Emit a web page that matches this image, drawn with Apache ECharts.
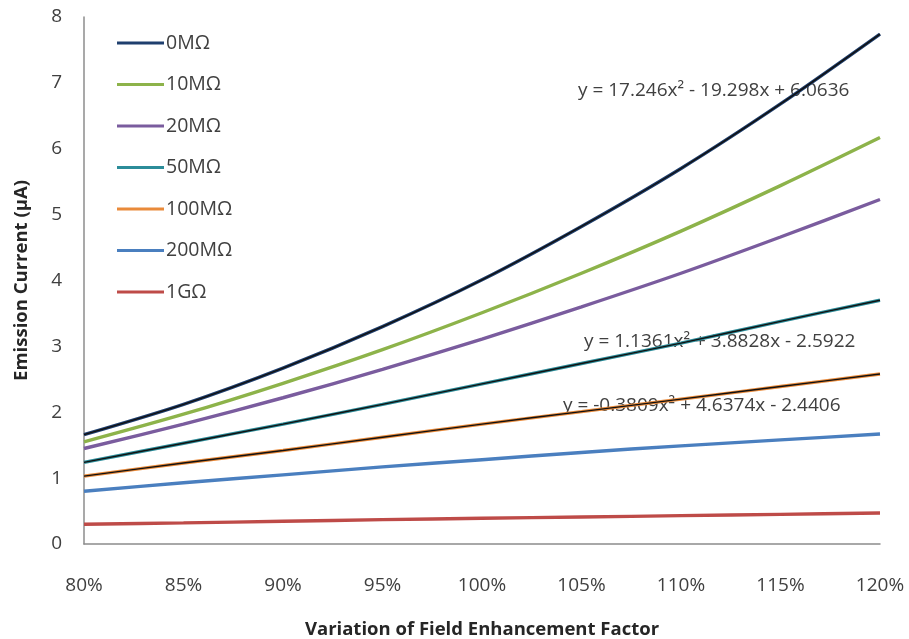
<!DOCTYPE html>
<html>
<head>
<meta charset="utf-8">
<script src="https://cdn.jsdelivr.net/npm/echarts@6/dist/echarts.min.js"></script>
<style>
  html, body { margin: 0; padding: 0; background: #ffffff; }
  #chart { width: 909px; height: 639px; }
</style>
</head>
<body>
<div id="chart"></div>
<script>
// Field enhancement factor variation (x) vs. emission current in µA (y)
const factors = ['80%', '85%', '90%', '95%', '100%', '105%', '110%', '115%', '120%'];

const r0M   = [1.66, 2.12, 2.67, 3.30, 4.01, 4.82, 5.70, 6.68, 7.74];
const r10M  = [1.55, 1.97, 2.44, 2.95, 3.51, 4.11, 4.75, 5.44, 6.17];
const r20M  = [1.45, 1.82, 2.22, 2.65, 3.11, 3.60, 4.11, 4.66, 5.23];
const r50M  = [1.24, 1.53, 1.82, 2.12, 2.43, 2.74, 3.05, 3.38, 3.70];
const r100M = [1.03, 1.23, 1.42, 1.62, 1.82, 2.01, 2.20, 2.39, 2.58];
const r200M = [0.80, 0.93, 1.05, 1.17, 1.28, 1.39, 1.49, 1.58, 1.67];
const r1G   = [0.30, 0.32, 0.345, 0.37, 0.39, 0.41, 0.43, 0.45, 0.47];

const seriesNames = ['0MΩ', '10MΩ', '20MΩ', '50MΩ', '100MΩ', '200MΩ', '1GΩ'];
const seriesData  = [r0M, r10M, r20M, r50M, r100M, r200M, r1G];
const seriesColors = ['#1F3F6E', '#8DB34A', '#7A5C9E', '#2B8C99', '#E98A3A', '#4A7FBF', '#BE4B48'];

// Polynomial trendline equations shown on the plot
const trendLabels = [
  'y = 17.246x² - 19.298x + 6.0636',
  'y = 1.1361x² + 3.8828x - 2.5922',
  'y = -0.3809x² + 4.6374x - 2.4406'
];
const trendSeries = [r0M, r50M, r100M];

const FONT = '"Open Sans", "Noto Sans", sans-serif';
const TEXT = '#404040';

const series = seriesNames.map((name, i) => ({
  name: name,
  type: 'line',
  data: seriesData[i],
  smooth: 0.3,
  showSymbol: false,
  symbol: 'none',
  lineStyle: { color: seriesColors[i], width: 3.4 },
  itemStyle: { color: seriesColors[i] },
  z: 2
}));

// thin black trendlines drawn over their series
trendSeries.forEach(d => {
  series.push({
    type: 'line',
    data: d,
    smooth: 0.3,
    showSymbol: false,
    symbol: 'none',
    lineStyle: { color: '#111111', width: 1.4 },
    silent: true,
    z: 3
  });
});

const chart = echarts.init(document.getElementById('chart'), null, { renderer: 'canvas' });
chart.setOption({
  backgroundColor: '#ffffff',
  animation: false,
  grid: { left: 84, right: 29, top: 17, bottom: 95, containLabel: false, outerBoundsMode: 'none' },
  legend: {
    data: seriesNames.map((n, i) => ({ name: n, icon: 'rect', itemStyle: { color: seriesColors[i] } })),
    orient: 'vertical',
    left: 117,
    top: 33,
    padding: 0,
    itemWidth: 47,
    itemHeight: 3,
    itemGap: 21.5,
    textStyle: { fontFamily: FONT, fontSize: 19.5, color: TEXT, lineHeight: 20, padding: [0, 0, 0, -3] }
  },
  xAxis: {
    type: 'category',
    data: factors,
    boundaryGap: false,
    name: 'Variation of Field Enhancement Factor',
    nameLocation: 'middle',
    nameGap: 76,
    nameTextStyle: { fontFamily: FONT, fontSize: 18.5, fontWeight: 'bold', color: '#262626' },
    axisLine: { lineStyle: { color: '#8c8c8c', width: 1.5 } },
    axisTick: { show: false },
    axisLabel: { fontFamily: FONT, fontSize: 19, color: TEXT, margin: 32 },
    splitLine: { show: false }
  },
  yAxis: {
    type: 'value',
    min: 0,
    max: 8,
    interval: 1,
    name: 'Emission Current (μA)',
    nameLocation: 'middle',
    nameGap: 53,
    nameTextStyle: { fontFamily: FONT, fontSize: 18.5, fontWeight: 'bold', color: '#262626' },
    axisLine: { show: true, lineStyle: { color: '#8c8c8c', width: 1.5 } },
    axisTick: { show: false },
    axisLabel: { fontFamily: FONT, fontSize: 19, color: TEXT, margin: 22 },
    splitLine: { show: false }
  },
  graphic: [
    { type: 'text', left: 578, top: 81, z: 0, style: { text: trendLabels[0], font: '19px ' + FONT, fill: TEXT } },
    { type: 'text', left: 584, top: 332, z: 0, style: { text: trendLabels[1], font: '19px ' + FONT, fill: TEXT } },
    { type: 'text', left: 563, top: 396, z: 0, style: { text: trendLabels[2], font: '19px ' + FONT, fill: TEXT } }
  ],
  series: series
});
</script>
</body>
</html>
